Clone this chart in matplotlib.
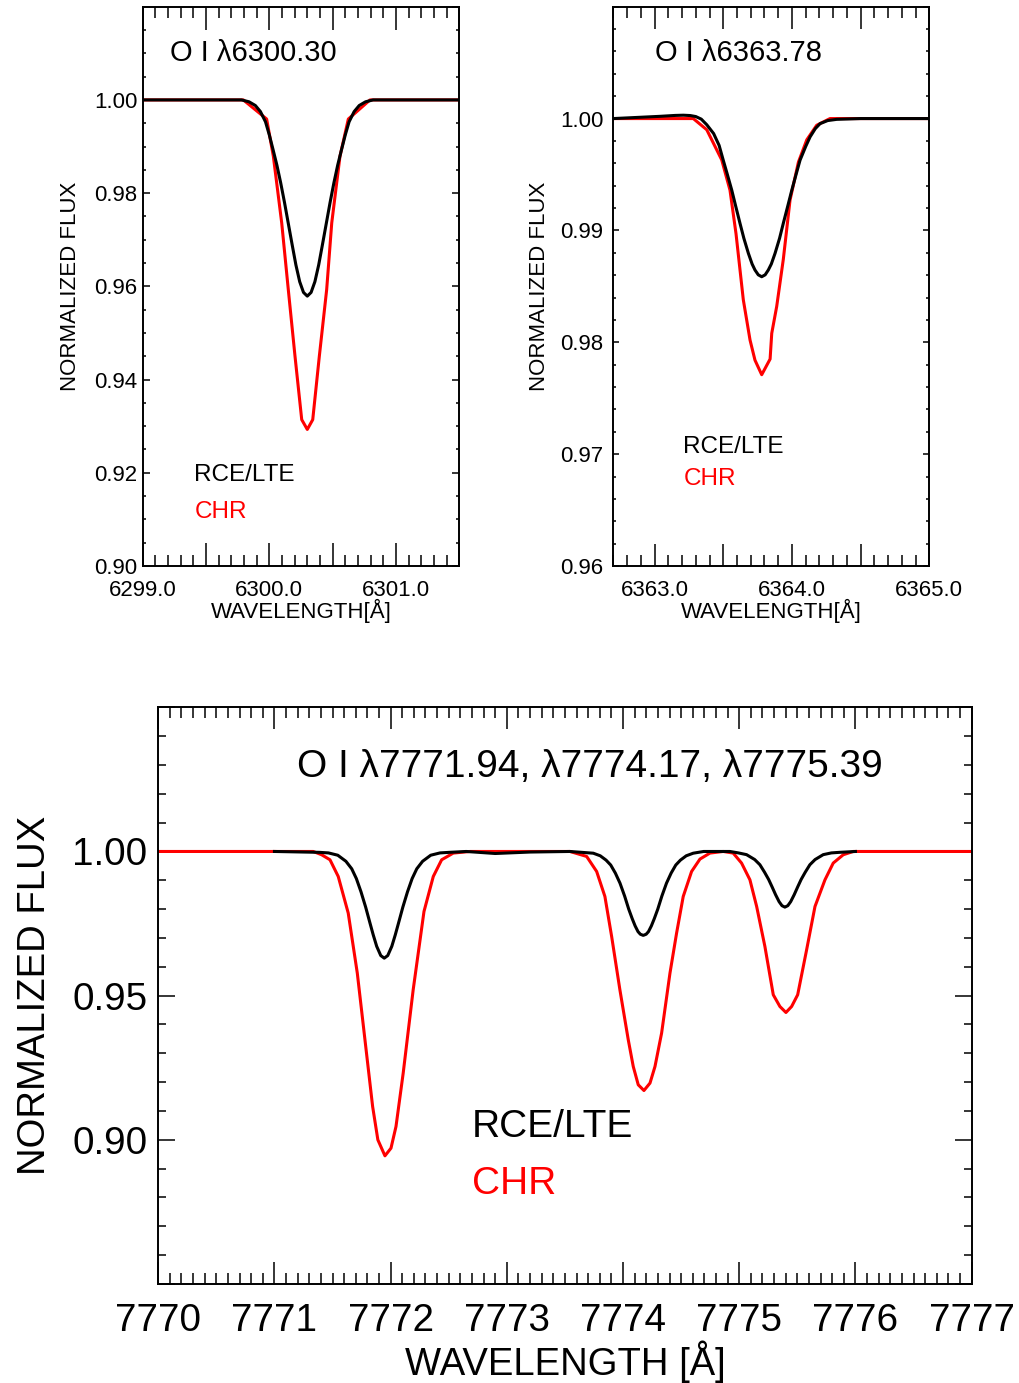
import matplotlib
matplotlib.use('Agg')
import matplotlib.pyplot as plt
from matplotlib.ticker import MultipleLocator

plt.rcParams['font.family'] = ['Liberation Sans', 'DejaVu Sans']

# ---- O I 6300.30 ----
tl_wl_chr = [6299.000, 6299.795, 6299.979, 6300.032, 6300.098, 6300.150, 6300.203,
             6300.256, 6300.300, 6300.343, 6300.395, 6300.453, 6300.493, 6300.558,
             6300.624, 6300.795, 6301.500]
tl_fx_chr = [1.0000, 1.0000, 0.9959, 0.9879, 0.9736, 0.9593, 0.9450,
             0.9314, 0.9293, 0.9314, 0.9450, 0.9593, 0.9736, 0.9879,
             0.9959, 1.0000, 1.0000]
tl_wl_rce = [6299.000, 6299.780, 6299.840, 6299.890, 6299.930, 6299.970, 6300.000,
             6300.030, 6300.060, 6300.090, 6300.120, 6300.150, 6300.180, 6300.210,
             6300.240, 6300.270, 6300.300, 6300.330, 6300.360, 6300.390, 6300.420,
             6300.450, 6300.480, 6300.510, 6300.540, 6300.570, 6300.600, 6300.630,
             6300.670, 6300.710, 6300.760, 6300.820, 6301.500]
tl_fx_rce = [1.0000, 1.0000, 0.9996, 0.9988, 0.9975, 0.9953, 0.9925,
             0.9893, 0.9860, 0.9822, 0.9780, 0.9735, 0.9690, 0.9646,
             0.9610, 0.9587, 0.9579, 0.9587, 0.9610, 0.9646, 0.9690,
             0.9735, 0.9780, 0.9822, 0.9860, 0.9893, 0.9925, 0.9953,
             0.9975, 0.9988, 0.9996, 1.0000, 1.0000]

# ---- O I 6363.78 ----
tr_wl_chr = [6362.700, 6363.186, 6363.282, 6363.380, 6363.489, 6363.549, 6363.593,
             6363.646, 6363.695, 6363.731, 6363.780, 6363.841, 6363.853, 6363.889,
             6363.937, 6363.986, 6364.047, 6364.108, 6364.180, 6364.277, 6365.000]
tr_fx_chr = [1.0000, 1.0000, 1.0000, 0.9990, 0.9963, 0.9936, 0.9897,
             0.9838, 0.9802, 0.9784, 0.9771, 0.9785, 0.9808, 0.9832,
             0.9874, 0.9927, 0.9961, 0.9981, 0.9994, 1.0000, 1.0000]
tr_wl_rce = [6362.700, 6362.870, 6363.040, 6363.150, 6363.210, 6363.260, 6363.300,
             6363.340, 6363.380, 6363.430, 6363.470, 6363.500, 6363.530, 6363.562,
             6363.590, 6363.622, 6363.650, 6363.683, 6363.710, 6363.731, 6363.755,
             6363.780, 6363.805, 6363.828, 6363.850, 6363.877, 6363.910, 6363.937,
             6363.970, 6363.999, 6364.030, 6364.059, 6364.100, 6364.132, 6364.170,
             6364.205, 6364.260, 6364.326, 6364.500, 6365.000]
tr_fx_rce = [1.00000, 1.00010, 1.00020, 1.00028, 1.00030, 1.00027, 1.00018,
             0.99995, 0.99945, 0.99866, 0.99760, 0.99628, 0.99500, 0.99360,
             0.99220, 0.99063, 0.98930, 0.98795, 0.98700, 0.98646, 0.98603,
             0.98586, 0.98603, 0.98646, 0.98700, 0.98795, 0.98930, 0.99063,
             0.99220, 0.99360, 0.99500, 0.99628, 0.99750, 0.99836, 0.99910,
             0.99955, 0.99982, 0.99993, 1.00000, 1.00000]

# ---- O I triplet ----
bt_wl_chr = [7770.000, 7771.334, 7771.406, 7771.478, 7771.549, 7771.635, 7771.713,
             7771.779, 7771.845, 7771.890, 7771.951, 7772.003, 7772.046, 7772.108,
             7772.194, 7772.287, 7772.367, 7772.439, 7772.539, 7772.683,
             7773.543, 7773.687, 7773.773, 7773.844, 7773.902, 7773.973, 7774.045,
             7774.088, 7774.131, 7774.180, 7774.232, 7774.275, 7774.332, 7774.404,
             7774.461, 7774.518, 7774.590, 7774.662, 7774.748, 7774.862,
             7774.948, 7775.020, 7775.092, 7775.150, 7775.221, 7775.293, 7775.350,
             7775.402, 7775.451, 7775.503, 7775.580, 7775.652, 7775.738, 7775.809,
             7775.895, 7775.981, 7777.000]
bt_fx_chr = [1.0000, 1.0000, 0.99886, 0.99712, 0.99133, 0.97863, 0.95782,
             0.93468, 0.91155, 0.9000, 0.89445, 0.89711, 0.90461, 0.92313,
             0.95204, 0.97919, 0.99133, 0.99712, 0.99944, 1.0000,
             1.0000, 0.99827, 0.99306, 0.98439, 0.97052, 0.95203, 0.93469,
             0.92543, 0.91908, 0.91710, 0.91967, 0.92543, 0.93701, 0.95782,
             0.97170, 0.98439, 0.99306, 0.99736, 0.99944, 1.0000,
             0.99944, 0.99598, 0.99018, 0.98092, 0.96705, 0.95030, 0.94624,
             0.94416, 0.94624, 0.95030, 0.96590, 0.98092, 0.99018, 0.99598,
             0.99886, 1.0000, 1.0000]
bt_wl_rce = [7771.000, 7771.385, 7771.465, 7771.545, 7771.615, 7771.665, 7771.705,
             7771.745, 7771.785, 7771.822, 7771.850, 7771.880, 7771.915, 7771.945,
             7771.975, 7772.010, 7772.040, 7772.068, 7772.105, 7772.145, 7772.185,
             7772.225, 7772.275, 7772.345, 7772.425, 7772.505, 7772.650, 7772.900,
             7773.200, 7773.543,
             7773.744, 7773.804, 7773.854, 7773.894, 7773.934, 7773.974, 7774.014,
             7774.049, 7774.079, 7774.104, 7774.129, 7774.149, 7774.174, 7774.199,
             7774.219, 7774.244, 7774.269, 7774.299, 7774.334, 7774.374, 7774.414,
             7774.454, 7774.494, 7774.544, 7774.604, 7774.694, 7774.920,
             7774.993, 7775.063, 7775.133, 7775.178, 7775.218, 7775.253, 7775.283,
             7775.313, 7775.343, 7775.368, 7775.393, 7775.418, 7775.443, 7775.473,
             7775.503, 7775.533, 7775.568, 7775.608, 7775.653, 7775.723, 7775.793,
             7775.863, 7776.000]
bt_fx_rce = [1.0000, 0.9997, 0.9995, 0.9987, 0.9966, 0.9940, 0.9906,
             0.9860, 0.9807, 0.9752, 0.9711, 0.9671, 0.9639, 0.9630,
             0.9639, 0.9671, 0.9711, 0.9752, 0.9807, 0.9860, 0.9906,
             0.9940, 0.9966, 0.9987, 0.9995, 0.9997, 1.0000, 0.9993,
             0.9998, 1.0000,
             0.9994, 0.9985, 0.9970, 0.9953, 0.9925, 0.9890, 0.9845,
             0.9800, 0.9767, 0.9742, 0.9722, 0.9713, 0.9709, 0.9713,
             0.9722, 0.9742, 0.9767, 0.9800, 0.9845, 0.9890, 0.9925,
             0.9953, 0.9970, 0.9985, 0.9994, 1.0000, 1.0000,
             0.9995, 0.9989, 0.9972, 0.9954, 0.9928, 0.9903, 0.9877,
             0.9850, 0.9826, 0.9812, 0.9807, 0.9812, 0.9826, 0.9850,
             0.9877, 0.9903, 0.9928, 0.9954, 0.9972, 0.9989, 0.9995,
             0.9997, 1.0000]

# ticks and labels
tl_xticks = [6299.0, 6299.5, 6300.0, 6300.5, 6301.0, 6301.5]
tl_xlabels = ['6299.0', '', '6300.0', '', '6301.0', '']
tl_yticks = [0.90, 0.92, 0.94, 0.96, 0.98, 1.00, 1.02]
tl_ylabels = ['0.90', '0.92', '0.94', '0.96', '0.98', '1.00', '']
tr_xticks = [6363.0, 6363.5, 6364.0, 6364.5, 6365.0]
tr_xlabels = ['6363.0', '', '6364.0', '', '6365.0']
tr_yticks = [0.96, 0.97, 0.98, 0.99, 1.00, 1.01]
tr_ylabels = ['0.96', '0.97', '0.98', '0.99', '1.00', '']
bt_xticks = [7770, 7771, 7772, 7773, 7774, 7775, 7776, 7777]
bt_xlabels = ['7770', '7771', '7772', '7773', '7774', '7775', '7776', '7777']
bt_yticks = [0.85, 0.90, 0.95, 1.00, 1.05]
bt_ylabels = ['', '0.90', '0.95', '1.00', '']

RED = '#ff0000'
LW = 2.2


def style_axes(ax, xlen, ylen, lsize, xpad, ypad):
    for s in ax.spines.values():
        s.set_linewidth(1.4)
    ax.tick_params(which='both', direction='in', top=True, right=True,
                   width=1.1, labelsize=lsize)
    ax.tick_params(axis='x', which='major', length=xlen[0], pad=xpad)
    ax.tick_params(axis='x', which='minor', length=xlen[1])
    ax.tick_params(axis='y', which='major', length=ylen[0], pad=ypad)
    ax.tick_params(axis='y', which='minor', length=ylen[1])


fig = plt.figure(figsize=(10.19, 13.83), dpi=100)

# top left
ax1 = fig.add_axes([0.1400, 0.59075, 0.3107, 0.4044])
ax1.plot(tl_wl_chr, tl_fx_chr, color=RED, lw=LW)
ax1.plot(tl_wl_rce, tl_fx_rce, color='k', lw=LW, solid_joinstyle='round')
ax1.set_xlim(6299.0, 6301.5)
ax1.set_ylim(0.90, 1.02)
ax1.set_xticks(tl_xticks, tl_xlabels)
ax1.set_yticks(tl_yticks, tl_ylabels)
ax1.xaxis.set_minor_locator(MultipleLocator(0.1))
ax1.yaxis.set_minor_locator(MultipleLocator(0.005))
style_axes(ax1, (16.3, 8.0), (4.8, 2.4), 16, 9.9, 3.7)
ax1.set_xlabel('WAVELENGTH[Å]', fontsize=16, va='baseline')
ax1.xaxis.set_label_coords(0.5, -0.0935)
ax1.set_ylabel('NORMALIZED FLUX', fontsize=16)
ax1.yaxis.set_label_coords(-0.196, 0.5)
ax1.text(0.086, 0.917, 'O I λ6300.30', transform=ax1.transAxes,
         fontsize=21, ha='left', va='center')
ax1.text(0.163, 0.1627, 'RCE/LTE', transform=ax1.transAxes,
         fontsize=17.5, ha='left', va='center', color='k')
ax1.text(0.163, 0.0966, 'CHR', transform=ax1.transAxes,
         fontsize=17.5, ha='left', va='center', color=RED)

# top right
ax2 = fig.add_axes([0.6019, 0.59075, 0.3101, 0.4044])
ax2.plot(tr_wl_chr, tr_fx_chr, color=RED, lw=LW)
ax2.plot(tr_wl_rce, tr_fx_rce, color='k', lw=LW, solid_joinstyle='round')
ax2.set_xlim(6362.7, 6365.0)
ax2.set_ylim(0.96, 1.01)
ax2.set_xticks(tr_xticks, tr_xlabels)
ax2.set_yticks(tr_yticks, tr_ylabels)
ax2.xaxis.set_minor_locator(MultipleLocator(0.1))
ax2.yaxis.set_minor_locator(MultipleLocator(0.002))
style_axes(ax2, (16.0, 8.0), (4.5, 2.4), 16, 9.9, 7.2)
ax2.set_xlabel('WAVELENGTH[Å]', fontsize=16, va='baseline')
ax2.xaxis.set_label_coords(0.5, -0.0935)
ax2.set_ylabel('NORMALIZED FLUX', fontsize=16)
ax2.yaxis.set_label_coords(-0.201, 0.5)
ax2.text(0.132, 0.917, 'O I λ6363.78', transform=ax2.transAxes,
         fontsize=21, ha='left', va='center')
ax2.text(0.2215, 0.2133, 'RCE/LTE', transform=ax2.transAxes,
         fontsize=17.5, ha='left', va='center', color='k')
ax2.text(0.2215, 0.1547, 'CHR', transform=ax2.transAxes,
         fontsize=17.5, ha='left', va='center', color=RED)

# bottom
ax3 = fig.add_axes([0.1553, 0.07158, 0.7982, 0.4170])
ax3.plot(bt_wl_chr, bt_fx_chr, color=RED, lw=LW)
ax3.plot(bt_wl_rce, bt_fx_rce, color='k', lw=LW, solid_joinstyle='round')
ax3.set_xlim(7770, 7777)
ax3.set_ylim(0.85, 1.05)
ax3.set_xticks(bt_xticks, bt_xlabels)
ax3.set_yticks(bt_yticks, bt_ylabels)
ax3.xaxis.set_minor_locator(MultipleLocator(0.1))
ax3.yaxis.set_minor_locator(MultipleLocator(0.01))
style_axes(ax3, (16.0, 7.7), (12.0, 6.0), 27.8, 14.0, 7.8)
ax3.set_xlabel('WAVELENGTH [Å]', fontsize=27.5, va='baseline')
ax3.xaxis.set_label_coords(0.5, -0.158)
ax3.set_ylabel('NORMALIZED FLUX', fontsize=27.5)
ax3.yaxis.set_label_coords(-0.1294, 0.5)
ax3.text(0.1705, 0.8965, 'O I λ7771.94, λ7774.17, λ7775.39',
         transform=ax3.transAxes, fontsize=28, ha='left', va='center')
ax3.text(0.3853, 0.2728, 'RCE/LTE', transform=ax3.transAxes,
         fontsize=28, ha='left', va='center', color='k')
ax3.text(0.3853, 0.1734, 'CHR', transform=ax3.transAxes,
         fontsize=28, ha='left', va='center', color=RED)

fig.savefig('out.png', dpi=100)
